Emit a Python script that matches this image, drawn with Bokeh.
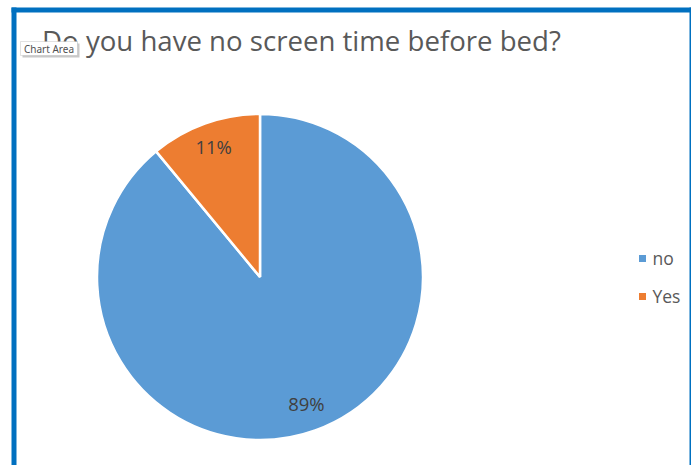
import math
from bokeh.plotting import figure
from bokeh.models import ColumnDataSource, Range1d, BoxAnnotation, Label
from bokeh.core.properties import value
from bokeh.embed import file_html
from bokeh.resources import INLINE

# ---- data ----
categories = ["no", "Yes"]
values = [89, 11]
colors = ["#5B9BD5", "#ED7D31"]
title_text = "Do you have no screen time before bed?"

W, H = 691, 465
FONT = "Open Sans"


def Y(py):
    """convert a top-down pixel offset to a data y value"""
    return H - py


p = figure(width=W, height=H, x_range=Range1d(0, W), y_range=Range1d(0, H),
           output_backend="svg", toolbar_location=None, min_border=0)
p.axis.visible = False
p.grid.visible = False
p.outline_line_color = None
p.background_fill_color = "white"
p.border_fill_color = "white"

# pie geometry
cx, cy, R = 259.5, Y(276.5), 163

total = float(sum(values))
starts, ends, lx, ly, labels = [], [], [], [], []
cum = 0.0
for v in values:
    a0 = math.pi / 2 - 2 * math.pi * cum / total
    cum += v
    a1 = math.pi / 2 - 2 * math.pi * cum / total
    starts.append(a0)
    ends.append(a1)
    mid = (a0 + a1) / 2
    lx.append(cx + 0.84 * R * math.cos(mid))
    ly.append(cy + 0.84 * R * math.sin(mid))
    labels.append(f"{round(100 * v / total)}%")

src = ColumnDataSource(dict(cat=categories, val=values, color=colors,
                            start=starts, end=ends, lx=lx, ly=ly, label=labels))

p.wedge(x=cx, y=cy, radius=R, start_angle="start", end_angle="end",
        direction="clock", fill_color="color", line_color="white",
        line_width=2.5, source=src)

p.text(x="lx", y="ly", text="label", source=src, text_align="center",
       text_baseline="middle", text_font=value(FONT), text_font_size="18.5px",
       text_color="#404040", y_offset=-2)

# legend (manual)
leg_x = 642
leg_y = [Y(258 + 38 * i) for i in range(len(categories))]
lsrc = ColumnDataSource(dict(x=[leg_x] * len(categories), y=leg_y,
                             tx=[leg_x + 10] * len(categories),
                             cat=categories, color=colors))
p.scatter(x="x", y="y", marker="square", size=7, fill_color="color",
          line_color=None, source=lsrc)
p.text(x="tx", y="y", text="cat", source=lsrc, text_align="left",
       text_baseline="middle", text_font=value(FONT), text_font_size="17.5px",
       text_color="#595959", y_offset=-1)

# title
p.add_layout(Label(x=301, y=Y(39), text=title_text, text_align="center",
                   text_baseline="alphabetic", text_font=FONT,
                   text_font_size="27.6px", text_color="#595959"))

# blue selection border
BLUE = "#0070C0"
for l, r, t, b in [(11, 694, Y(7), Y(12)), (11, 16, Y(7), -1),
                   (689, 694, Y(7), -1)]:
    p.add_layout(BoxAnnotation(left=l, right=r, top=t, bottom=b,
                               fill_color=BLUE, fill_alpha=1.0,
                               line_color=None, level="overlay"))

# "Chart Area" tooltip
p.add_layout(BoxAnnotation(left=22, right=79, top=Y(43), bottom=Y(57),
                           fill_color="#B0B0B0", fill_alpha=0.7,
                           line_color=None, level="overlay"))
p.add_layout(BoxAnnotation(left=20, right=77, top=Y(41), bottom=Y(55),
                           fill_color="white", fill_alpha=1.0,
                           line_color="#A0A0A0", line_width=1,
                           level="overlay"))
p.add_layout(Label(x=48.5, y=Y(48), text="Chart Area", text_align="center",
                   text_baseline="middle", text_font="Noto Sans",
                   text_font_size="10px", text_color="#505050",
                   level="overlay"))

open("out.html", "w").write(file_html(p, INLINE))
